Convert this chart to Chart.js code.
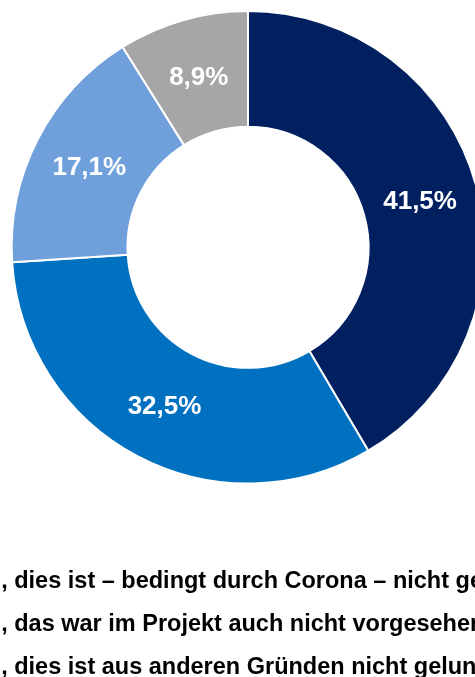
<!DOCTYPE html>
<html>
<head>
<meta charset="utf-8">
<script src="https://cdn.jsdelivr.net/npm/chart.js@4"></script>
<style>
  html, body { margin: 0; padding: 0; background: #fff; overflow: hidden; }
  #wrap { position: absolute; left: -101px; top: 0; }
</style>
</head>
<body>
<div id="wrap"><canvas id="chart" width="698" height="732"></canvas></div>
<script>
var labels = [
  'Nein, dies ist \u2013 bedingt durch Corona \u2013 nicht gelungen',
  'Nein, das war im Projekt auch nicht vorgesehen',
  'Nein, dies ist aus anderen Gründen nicht gelungen',
  'Ja, dies ist gelungen'
];
var shares = [41.5, 32.5, 17.1, 8.9];
var colors = ['#002060', '#0070C0', '#6FA0DC', '#A6A6A6'];

// white percentage labels in the middle of each ring segment
var sliceLabels = {
  id: 'sliceLabels',
  afterDatasetsDraw: function (chart) {
    var ctx = chart.ctx;
    var meta = chart.getDatasetMeta(0);
    ctx.save();
    ctx.fillStyle = '#fff';
    ctx.font = 'bold 26px "Liberation Sans", Arial, sans-serif';
    ctx.textAlign = 'center';
    ctx.textBaseline = 'middle';
    meta.data.forEach(function (arc, i) {
      var p = arc.tooltipPosition();
      ctx.fillText(shares[i].toFixed(1).replace('.', ',') + '%', p.x, p.y + 2);
    });
    ctx.restore();
  }
};

var ctx = document.getElementById('chart').getContext('2d');
var myChart = new Chart(ctx, {
  type: 'doughnut',
  data: {
    labels: labels,
    datasets: [{
      data: shares,
      backgroundColor: colors,
      borderColor: '#fff',
      borderWidth: 2,
      hoverOffset: 0
    }]
  },
  options: {
    responsive: false,
    animation: false,
    cutout: '51%',
    layout: { padding: { top: 10 } },
    plugins: {
      tooltip: { enabled: false },
      legend: {
        position: 'bottom',
        align: 'start',
        title: { display: true, text: '', padding: { top: 51, bottom: 0 } },
        labels: {
          color: '#000',
          boxWidth: 20,
          boxHeight: 20,
          padding: 19.5,
          font: { family: '"Liberation Sans", Arial, sans-serif', size: 23.5, weight: 'bold' }
        }
      }
    }
  },
  plugins: [sliceLabels]
});
</script>
</body>
</html>
